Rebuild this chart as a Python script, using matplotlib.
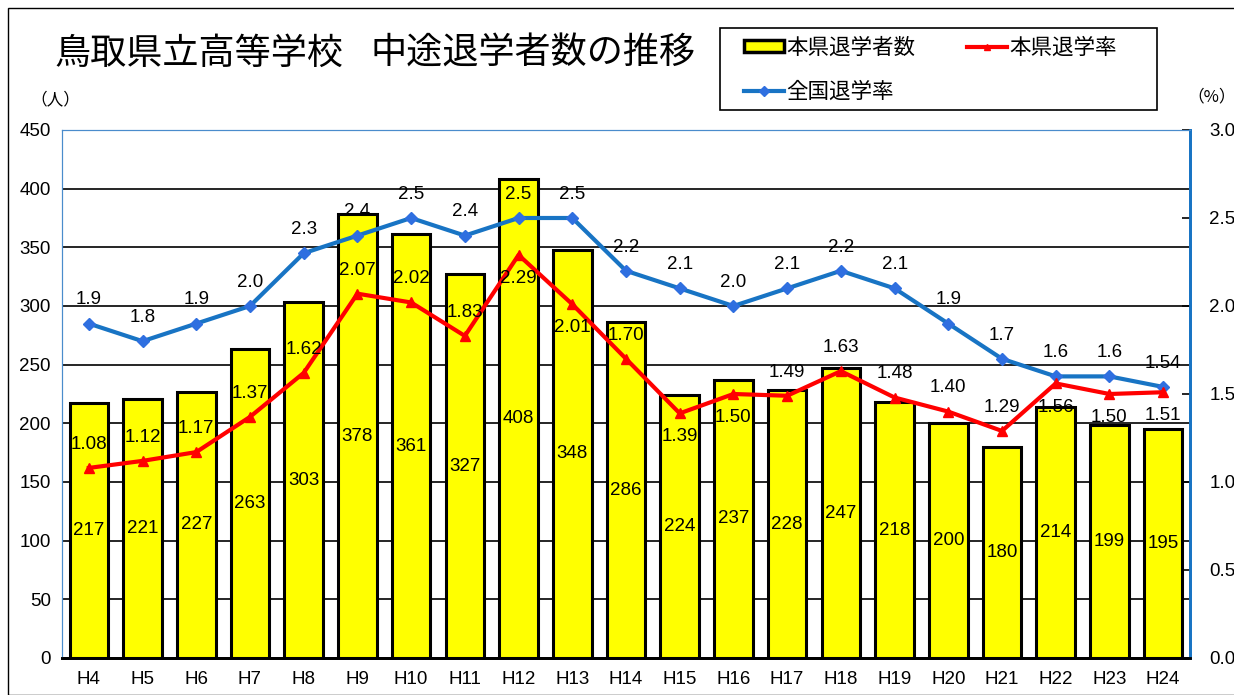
import matplotlib
matplotlib.use("Agg")
import matplotlib.pyplot as plt
from matplotlib.patches import Rectangle, Patch
from matplotlib.lines import Line2D
import numpy as np

plt.rcParams['font.family'] = ['Noto Sans CJK JP', 'DejaVu Sans']
NUM = ['Liberation Sans', 'DejaVu Sans']

years = ['H4', 'H5', 'H6', 'H7', 'H8', 'H9', 'H10', 'H11', 'H12', 'H13', 'H14',
         'H15', 'H16', 'H17', 'H18', 'H19', 'H20', 'H21', 'H22', 'H23', 'H24']
dropouts = [217, 221, 227, 263, 303, 378, 361, 327, 408, 348, 286,
            224, 237, 228, 247, 218, 200, 180, 214, 199, 195]
pref_rate = [1.08, 1.12, 1.17, 1.37, 1.62, 2.07, 2.02, 1.83, 2.29, 2.01, 1.70,
             1.39, 1.50, 1.49, 1.63, 1.48, 1.40, 1.29, 1.56, 1.50, 1.51]
nat_rate = [1.9, 1.8, 1.9, 2.0, 2.3, 2.4, 2.5, 2.4, 2.5, 2.5, 2.2,
            2.1, 2.0, 2.1, 2.2, 2.1, 1.9, 1.7, 1.6, 1.6, 1.54]
nat_labels = ['1.9', '1.8', '1.9', '2.0', '2.3', '2.4', '2.5', '2.4', '2.5', '2.5', '2.2',
              '2.1', '2.0', '2.1', '2.2', '2.1', '1.9', '1.7', '1.6', '1.6', '1.54']
# label placement for prefectural rate (1 = above, -1 = below)
pref_side = [1, 1, 1, 1, 1, 1, 1, 1, -1, -1, 1, -1, -1, 1, 1, 1, 1, 1, -1, -1, -1]
title_left = '鳥取県立高等学校'
title_right = '中途退学者数の推移'

W, H = 1234, 695
fig = plt.figure(figsize=(W / 100, H / 100), dpi=100)
ax = fig.add_axes([62 / W, 1 - 658 / H, (1190 - 62) / W, (658 - 130) / H])
ax2 = ax.twinx()

x = np.arange(len(years))
ax.bar(x, dropouts, width=0.72, color='#ffff00', edgecolor='black', linewidth=2.2, zorder=2)
ax.set_xlim(-0.5, len(years) - 0.5)
ax.set_ylim(0, 450)
ax.set_yticks(np.arange(0, 451, 50))
ax.yaxis.grid(True, color='black', linewidth=1.2)
ax.set_axisbelow(True)
ax.set_xticks(x)
ax.set_xticklabels(years, fontsize=13.5, family=NUM)
ax.set_yticklabels([str(v) for v in range(0, 451, 50)], fontsize=13.5, family=NUM)
ax.tick_params(axis='x', length=0, pad=9)
ax.tick_params(axis='y', length=0, pad=8)

for xi, v in zip(x, dropouts):
    ax.text(xi, v / 2, str(v), ha='center', va='center', fontsize=13.5, family=NUM, zorder=3)

blue = '#1874c4'
red = '#ff0000'
ax2.plot(x, nat_rate, color=blue, linewidth=3, marker='D', markersize=6,
         markerfacecolor='#2f6fe0', markeredgecolor='#2f6fe0', zorder=4)
ax2.plot(x, pref_rate, color=red, linewidth=3, marker='^', markersize=7,
         markerfacecolor=red, markeredgecolor=red, zorder=5)
ax2.set_ylim(0, 3.0)
ax2.set_yticks(np.arange(0, 3.01, 0.5))
ax2.set_yticklabels([f'{v:.1f}' for v in np.arange(0, 3.01, 0.5)], fontsize=13.5, family=NUM)
ax2.tick_params(axis='y', direction='in', length=6, width=1.2, color='black', pad=14)

for xi, v, lab in zip(x, nat_rate, nat_labels):
    ax2.annotate(lab, (xi, v), xytext=(0, 17), textcoords='offset points',
                 ha='center', va='center', fontsize=13.5, family=NUM, zorder=6)
for xi, v, s in zip(x, pref_rate, pref_side):
    ax2.annotate(f'{v:.2f}', (xi, v), xytext=(0, 17 * s), textcoords='offset points',
                 ha='center', va='center', fontsize=13.5, family=NUM, zorder=6)

for a in (ax, ax2):
    a.spines['top'].set_color('#4a8ccc')
    a.spines['left'].set_color('#4a8ccc')
    a.spines['right'].set_color(blue)
    a.spines['right'].set_linewidth(2)
    a.spines['bottom'].set_color('black')
    a.spines['bottom'].set_linewidth(2)

fig.text(55 / W, 1 - 100 / H, '（人）', fontsize=12, ha='center', va='center')
fig.text(1212 / W, 1 - 97 / H, '（%）', fontsize=12, ha='center', va='center')
fig.text(54 / W, 1 - 54 / H, title_left, fontsize=26, ha='left', va='center')
fig.text(371 / W, 1 - 54 / H, title_right, fontsize=26, ha='left', va='center')

handles = [Patch(facecolor='#ffff00', edgecolor='black', linewidth=2.5),
           Line2D([], [], color=blue, linewidth=3, marker='D', markersize=5,
                  markerfacecolor='#2f6fe0', markeredgecolor='#2f6fe0'),
           Line2D([], [], color=red, linewidth=3, marker='^', markersize=5,
                  markerfacecolor=red, markeredgecolor=red)]
labels = ['本県退学者数', '全国退学率', '本県退学率']
leg = fig.legend(handles, labels, ncol=2, loc='upper left',
                 bbox_to_anchor=(738 / W, 1 - 30 / H), fontsize=15.5,
                 frameon=False, handlelength=1.85, handleheight=0.45,
                 handletextpad=0.1, columnspacing=2.4, labelspacing=1.05,
                 borderpad=0.3, borderaxespad=0)

fig.patches.append(Rectangle((720 / W, 1 - 110 / H), (1157 - 720) / W, 82 / H,
                             transform=fig.transFigure, fill=False,
                             edgecolor='black', linewidth=1.2))
fig.patches.append(Rectangle((8 / W, 0), 1.2, 1 - 8 / H, transform=fig.transFigure,
                             fill=False, edgecolor='black', linewidth=1))

fig.savefig('out.png', dpi=100)
